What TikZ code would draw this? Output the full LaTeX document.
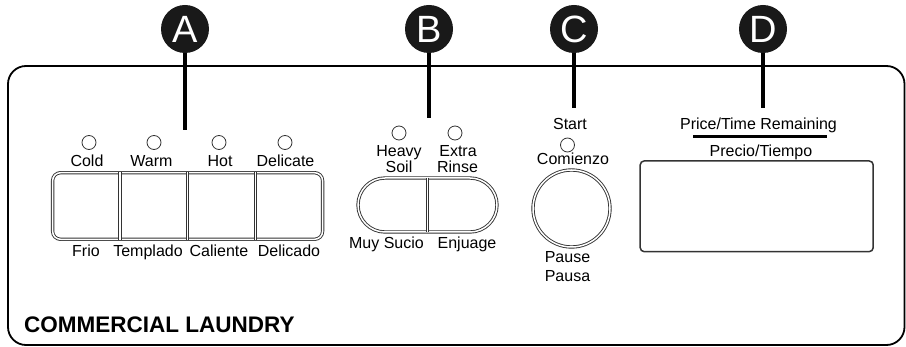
\documentclass[tikz,border=0pt]{standalone}
\usepackage{fontspec}
\setmainfont{Liberation Sans}
\usetikzlibrary{shapes.misc,calc}

\tikzstyle{badge}=[circle, fill=black!90, text=white, minimum size=48pt, inner sep=0pt, font=\fontsize{38}{38}\selectfont]
\tikzstyle{led}=[circle, draw=black!80, line width=0.8pt, minimum size=14pt, inner sep=0pt]
\tikzstyle{lbl}=[anchor=base, inner sep=0pt, font=\fontsize{16}{16}\selectfont]
\tikzstyle{dbl}=[draw=black!80, line width=0.9pt, double=white, double distance=1.5pt]

\begin{document}
\begin{tikzpicture}[x=1pt, y=-1pt]
\useasboundingbox (0,0) rectangle (906,347);
\draw[line width=1.8pt, rounded corners=18pt] (8,66) rectangle (904.5,345);

\node[badge](A) at (185,29) {A};
\node[badge](B) at (429,29) {B};
\node[badge](C) at (574,29) {C};
\node[badge](D) at (763,29) {D};
\coordinate (A tip) at (185,130);
\coordinate (B tip) at (429,118);
\coordinate (C tip) at (574,108);
\coordinate (D tip) at (763,108);

\begin{scope}[every path/.style={line width=4pt}]
       \draw (A) -- (A tip);
       \draw (B) -- (B tip);
       \draw (C) -- (C tip);
       \draw (D) -- (D tip);
\end{scope}

\node[led](cold led) at (89,142.5) {};
\node[led](warm led) at (154,142.5) {};
\node[led](hot led) at (219,142.5) {};
\node[led](delicate led) at (285,142.5) {};
\node[lbl](cold) at (87,166.5) {Cold};
\node[lbl](warm) at (151.5,166.5) {Warm};
\node[lbl](hot) at (220,166.5) {Hot};
\node[lbl](delicate) at (285.5,166.5) {Delicate};

\node[dbl, rectangle, rounded corners=8pt, minimum width=270pt, minimum height=66.6pt, inner sep=0pt](tempkeys) at (187.6,206) {};
\draw[dbl] ($(tempkeys.north west)!.25!(tempkeys.north east)$) -- ($(tempkeys.south west)!.25!(tempkeys.south east)$);
\draw[dbl] (tempkeys.north) -- (tempkeys.south);
\draw[dbl] ($(tempkeys.north west)!.75!(tempkeys.north east)$) -- ($(tempkeys.south west)!.75!(tempkeys.south east)$);

\node[lbl](frio) at (86,256.5) {Frio};
\node[lbl](templado) at (148,256.5) {Templado};
\node[lbl](caliente) at (219,256.5) {Caliente};
\node[lbl](delicado) at (289,256.5) {Delicado};

\node[led](heavy led) at (399,133) {};
\node[led](extra led) at (455,133) {};
\node[lbl](heavy) at (399,156.5) {Heavy};
\node[lbl](soil) at (399,172.5) {Soil};
\node[lbl](extra) at (458,156.5) {Extra};
\node[lbl](rinse) at (457.5,172.5) {Rinse};
\node[dbl, rounded rectangle, minimum width=139pt, minimum height=54pt, inner sep=0pt](soilkeys) at (427.5,205) {};
\draw[dbl] (soilkeys.north) -- (soilkeys.south);
\node[lbl](muy sucio) at (386.5,249) {Muy Sucio};
\node[lbl](enjuage) at (467,249) {Enjuage};

\node[lbl](start) at (570,130) {Start};
\node[led](start led) at (567.5,145) {};
\node[lbl](comienzo) at (573,165) {Comienzo};
\node[dbl, circle, minimum size=77pt, inner sep=0pt](startkey) at (571.5,208.5) {};
\node[lbl](pause) at (567.5,263) {Pause};
\node[lbl](pausa) at (567.5,281.5) {Pausa};

\node[lbl](price) at (758.5,130) {Price/Time Remaining};
\node[fill, minimum width=134pt, minimum height=3.4pt, inner sep=0pt](bar) at (759.7,136.7) {};
\node[lbl](precio) at (761,156.5) {Precio/Tiempo};
\node[draw=black!80, line width=1.5pt, rounded corners=4pt, minimum width=233pt, minimum height=90.7pt, inner sep=0pt](display) at (756.7,206.3) {};

\node[anchor=base west, inner sep=0pt, font=\fontsize{22.5}{22.5}\selectfont\bfseries](title) at (24,333) {COMMERCIAL LAUNDRY};
\end{tikzpicture}
\end{document}
